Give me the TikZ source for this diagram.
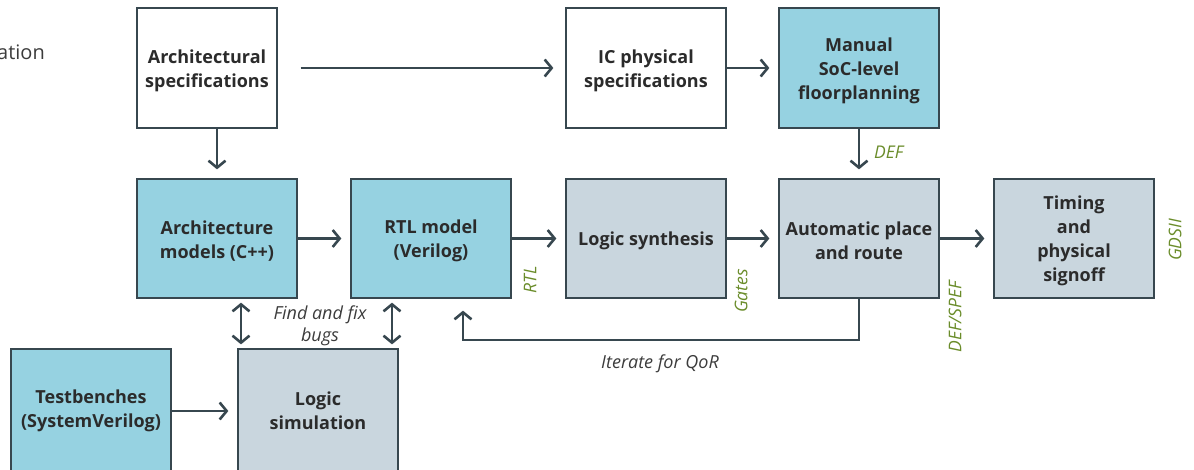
\documentclass[tikz,border=0pt]{standalone}
\usepackage{fontspec}
\setmainfont{Open Sans}
\usetikzlibrary{arrows.meta,calc}
\definecolor{bfill}{HTML}{96D2E1}
\definecolor{gfill}{HTML}{C9D6DE}
\definecolor{edge}{HTML}{37474F}
\definecolor{txt}{HTML}{2B2B2B}
\definecolor{lgreen}{HTML}{6A8C2A}
\definecolor{lgrey}{HTML}{3C3C3C}
\tikzset{
  btext/.style={text=txt, font=\fontsize{18}{24}\selectfont\bfseries, align=center, inner sep=0pt},
  box/.style={draw=edge, line width=1.3pt, minimum width=160pt, minimum height=120pt,
    inner sep=0pt},
  wbox/.style={box, fill=white},
  bbox/.style={box, fill=bfill},
  gbox/.style={box, fill=gfill},
  txtc/.style={label={[btext, yshift=-2.5pt]center:{#1}}},
  arr/.style={draw=edge, line width=2.6pt, -{Straight Barb[length=7pt,width=17pt,line width=2.6pt]}},
  darr/.style={draw=edge, line width=2.6pt, {Straight Barb[length=7pt,width=17pt,line width=2.6pt]}-{Straight Barb[length=7pt,width=17pt,line width=2.6pt]}},
  glab/.style={text=lgreen, font=\fontsize{17.5}{20}\selectfont\itshape, inner sep=0pt},
  ilab/.style={text=lgrey, font=\fontsize{18}{22}\selectfont\itshape, inner sep=0pt, align=center},
}
\begin{document}
\begin{tikzpicture}[x=1pt,y=-1pt]
\useasboundingbox (0,0) rectangle (1194,469);
\begin{scope}
\clip (0,0) rectangle (1194,469);
\node[wbox, minimum width=140pt, txtc={Architectural\\specifications}] (archspec) at (207,68) {};
\node[wbox, txtc={IC physical\\specifications}] (icphys) at (646,68) {};
\node[bbox, txtc={Manual\\SoC-level\\floorplanning}] (manual) at (859,68) {};
\node[bbox, minimum height=119pt, txtc={Architecture\\models (C++)}] (archmod) at (217,238.5) {};
\node[bbox, minimum height=119pt, txtc={RTL model\\(Verilog)}] (rtl) at (431,238.5) {};
\node[gbox, minimum height=119pt, txtc={Logic synthesis}] (synth) at (646,238.5) {};
\node[gbox, minimum height=119pt, txtc={Automatic place\\and route}] (apr) at (859,238.5) {};
\node[gbox, minimum height=119pt, txtc={Timing\\and\\physical\\signoff}] (timing) at (1074,238.5) {};
\node[bbox, minimum height=130pt] (tb) at (91,414) {};
\node[btext] (tbt) at (91,411) {Testbenches\\(SystemVerilog)};
\node[gbox, minimum height=130pt] (lsim) at (318,414) {};
\node[btext] (lsimt) at (318,411) {Logic\\simulation};
\end{scope}

\node[text=lgrey, font=\fontsize{20}{24}\selectfont, anchor=east, inner sep=0pt] (ation) at (45,52) {ation};

% arrows
\draw[arr, shorten <=23pt, shorten >=12pt] (archspec.east) -- (icphys.west);
\draw[arr, shorten >=9pt] (icphys.east) -- (manual.west);
\draw[arr, shorten >=9pt] (archmod.north |- archspec.south) -- (archmod.north);
\draw[arr, shorten >=9pt] (manual.south) -- (apr.north);
\draw[arr, shorten >=9pt] (archmod.east) -- (rtl.west);
\draw[arr, shorten >=9pt] (rtl.east) -- (synth.west);
\draw[arr, shorten >=9pt] (synth.east) -- (apr.west);
\draw[arr, shorten >=9pt] (apr.east) -- (timing.west);
\draw[arr, shorten >=9pt] (tb.east |- tbt) -- (lsim.west |- tbt);
\coordinate (loopc) at (463,340);
\draw[arr, shorten >=12pt] (apr.south) |- (loopc) -- (loopc |- rtl.south);
\coordinate (dl) at (241,300);
\coordinate (dr) at (392,300);
\draw[darr, shorten <=4pt, shorten >=4pt] (dl |- archmod.south) -- (dl |- lsim.north);
\draw[darr, shorten <=4pt, shorten >=4pt] (dr |- archmod.south) -- (dr |- lsim.north);

% labels
\node[glab, anchor=west] (ldef) at (874,152) {DEF};
\node[glab, rotate=90] (lrtl) at (530,280) {RTL};
\node[glab, rotate=90] (lgates) at (741,291) {Gates};
\node[glab, rotate=90] (ldefspef) at (955,317) {DEF/SPEF};
\node[glab, rotate=90] (lgds) at (1175,240) {GDSII};
\node[ilab] (lfind) at (320,326) {Find and fix\\bugs};
\node[ilab] (liter) at (660,364) {Iterate for QoR};
\end{tikzpicture}
\end{document}
